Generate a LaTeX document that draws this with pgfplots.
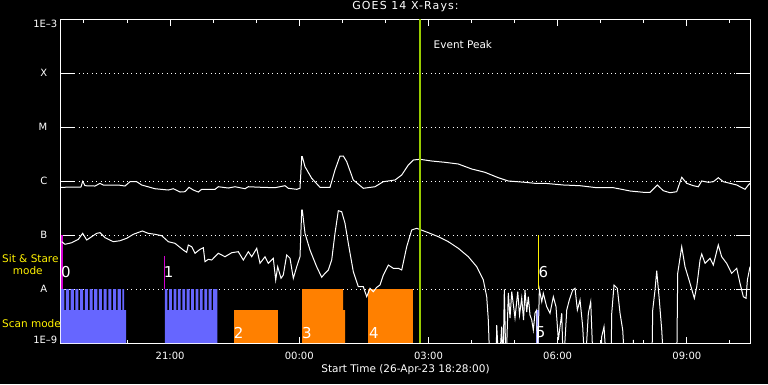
\documentclass[border=0pt]{standalone}
\usepackage{pgfplots}
\pgfplotsset{compat=1.18}
\usepackage{fontspec}
\setmainfont{DejaVu Sans}
\newfontfamily\titlefont[LetterSpace=10]{DejaVu Sans}
\definecolor{scanblue}{RGB}{102,102,255}
\definecolor{ssorange}{RGB}{255,128,0}
\definecolor{peakgreen}{RGB}{153,204,0}
\definecolor{ssmag}{RGB}{210,0,210}
\begin{document}
\fontsize{10.5}{12}\selectfont
\begin{tikzpicture}
\fill[black] (0pt,0pt) rectangle (768pt,384pt);
\useasboundingbox (0pt,0pt) rectangle (768pt,384pt);
\begin{axis}[
  at={(61pt,41pt)}, anchor=south west, scale only axis,
  width=689pt, height=324pt,
  xmin=0, xmax=16, ymin=-9, ymax=-3,
  axis line style={white, line width=1pt},
  every tick/.style={white, line width=1pt},
  xtick style={/pgfplots/major tick length=6.5pt, /pgfplots/minor tick length=3.5pt},
  ytick style={/pgfplots/major tick length=14pt},
  xtick={2.5333,5.5333,8.5333,11.5333,14.5333},
  xticklabels={21:00,00:00,03:00,06:00,09:00},
  minor xtick={0.5333,1.5333,3.5333,4.5333,6.5333,7.5333,9.5333,10.5333,12.5333,13.5333,15.5333},
  ytick={-9,-8,-7,-6,-5,-4,-3},
  yticklabels={\raisebox{3.75pt}{1E\textendash9}, A\hspace*{10pt}, B\hspace*{10pt}, C\hspace*{10pt}, M\hspace*{10pt}, X\hspace*{10pt}, \raisebox{-4.25pt}{1E\textendash3}},
  ymajorgrids,
  major grid style={white, line width=1pt, dash pattern=on 1pt off 3.4pt},
  tick label style={white, font=\fontsize{10}{12}\selectfont},
  xticklabel style={anchor=base, yshift=-16.5pt},
  yticklabel style={anchor=base east, yshift=-3.75pt},
  title={GOES 14 X-Rays:},
  title style={white, font=\titlefont\fontsize{11}{13}\selectfont, at={(axis description cs:0.5,1)}, anchor=base, yshift=4pt},
  xlabel={Start Time (26-Apr-23 18:28:00)},
  xlabel style={white, at={(axis description cs:0.5,0)}, anchor=base, yshift=-29pt},
]
% scan mode blocks (blue, comb pattern)
\addplot[fill=scanblue, draw=none] coordinates {
(0,-9) (0,-8) (0.079,-8) (0.079,-8.389) (0.116,-8.389) (0.116,-8)
(0.188,-8) (0.188,-8.389) (0.225,-8.389) (0.225,-8)
(0.297,-8) (0.297,-8.389) (0.334,-8.389) (0.334,-8)
(0.406,-8) (0.406,-8.389) (0.444,-8.389) (0.444,-8)
(0.516,-8) (0.516,-8.389) (0.553,-8.389) (0.553,-8)
(0.625,-8) (0.625,-8.389) (0.662,-8.389) (0.662,-8)
(0.734,-8) (0.734,-8.389) (0.771,-8.389) (0.771,-8)
(0.843,-8) (0.843,-8.389) (0.880,-8.389) (0.880,-8)
(0.952,-8) (0.952,-8.389) (0.989,-8.389) (0.989,-8)
(1.061,-8) (1.061,-8.389) (1.098,-8.389) (1.098,-8)
(1.170,-8) (1.170,-8.389) (1.208,-8.389) (1.208,-8)
(1.280,-8) (1.280,-8.389) (1.317,-8.389) (1.317,-8)
(1.389,-8) (1.389,-8.389) (1.426,-8.389) (1.426,-8)
(1.463,-8) (1.463,-8.389) (1.510,-8.389) (1.510,-9)};
\addplot[fill=scanblue, draw=none] coordinates {
(2.415,-9) (2.415,-8)
(2.473,-8) (2.473,-8.389) (2.510,-8.389) (2.510,-8)
(2.576,-8) (2.576,-8.389) (2.613,-8.389) (2.613,-8)
(2.678,-8) (2.678,-8.389) (2.715,-8.389) (2.715,-8)
(2.780,-8) (2.780,-8.389) (2.817,-8.389) (2.817,-8)
(2.882,-8) (2.882,-8.389) (2.919,-8.389) (2.919,-8)
(2.984,-8) (2.984,-8.389) (3.021,-8.389) (3.021,-8)
(3.086,-8) (3.086,-8.389) (3.124,-8.389) (3.124,-8)
(3.189,-8) (3.189,-8.389) (3.226,-8.389) (3.226,-8)
(3.291,-8) (3.291,-8.389) (3.328,-8.389) (3.328,-8)
(3.393,-8) (3.393,-8.389) (3.430,-8.389) (3.430,-8)
(3.495,-8) (3.495,-8.389) (3.532,-8.389) (3.532,-8)
(3.630,-8) (3.630,-9)};
\addplot[fill=scanblue, draw=none] coordinates {(11.031,-9) (11.031,-8.389) (11.101,-8.389) (11.101,-9)};
% sit & stare blocks (orange)
\addplot[fill=ssorange, draw=none] coordinates {(4.018,-9) (4.018,-8.389) (5.039,-8.389) (5.039,-9)};
\addplot[fill=ssorange, draw=none] coordinates {(5.597,-9) (5.597,-8) (6.549,-8) (6.549,-8.389) (6.595,-8.389) (6.595,-9)};
\addplot[fill=ssorange, draw=none] coordinates {(7.130,-9) (7.130,-8) (8.175,-8) (8.175,-9)};
% markers
\addplot[ssmag, line width=2pt] coordinates {(0.016,-7) (0.016,-8)};
\addplot[ssmag, line width=1pt] coordinates {(2.392,-7.389) (2.392,-8)};
\addplot[yellow, line width=1pt] coordinates {(11.094,-7) (11.094,-8)};
% long channel
\addplot[white, line width=1pt] coordinates {
(0.000,-6.117) (0.464,-6.111) (0.504,-6.006) (0.557,-6.087) (0.790,-6.093) (0.906,-6.043)
(0.982,-6.074) (1.331,-6.074) (1.486,-6.093) (1.602,-6.013) (1.758,-6.013) (1.874,-6.074)
(2.183,-6.143) (2.492,-6.167) (2.608,-6.143) (2.764,-6.204) (2.880,-6.198) (2.973,-6.117)
(3.072,-6.167) (3.189,-6.204) (3.267,-6.154) (3.576,-6.154) (3.653,-6.106) (3.885,-6.130)
(4.041,-6.106) (4.273,-6.143) (4.350,-6.106) (4.661,-6.117) (4.970,-6.124) (5.202,-6.087)
(5.279,-6.135) (5.474,-6.154) (5.550,-6.135) (5.590,-5.550) (5.604,-5.550) (5.666,-5.735)
(5.822,-5.950) (6.015,-6.117) (6.247,-6.117) (6.363,-5.796) (6.479,-5.537) (6.556,-5.537)
(6.635,-5.643) (6.788,-5.981) (7.020,-6.135) (7.292,-6.106) (7.485,-6.013) (7.757,-5.981)
(7.912,-5.889) (8.065,-5.704) (8.181,-5.611) (8.337,-5.598) (8.609,-5.630) (8.918,-5.654)
(9.226,-5.685) (9.538,-5.778) (9.846,-5.839) (10.155,-5.939) (10.388,-6.000) (10.775,-6.024)
(11.008,-6.043) (11.240,-6.043) (11.665,-6.074) (12.053,-6.087) (12.440,-6.124) (12.826,-6.124)
(13.021,-6.154) (13.214,-6.185) (13.523,-6.209) (13.678,-6.209) (13.848,-6.074) (13.987,-6.180)
(14.143,-6.217) (14.298,-6.198) (14.414,-5.931) (14.531,-6.043) (14.684,-6.087) (14.800,-6.106)
(14.879,-6.000) (15.032,-6.024) (15.148,-6.013) (15.264,-5.939) (15.380,-6.013) (15.536,-6.043)
(15.691,-6.074) (15.885,-6.154) (15.961,-6.074) (16.000,-6.043)};
% short channel
\addplot[white, line width=1pt] coordinates {
(0.016,-7.124) (0.093,-7.172) (0.248,-7.143) (0.402,-7.080) (0.504,-6.969) (0.597,-7.093)
(0.713,-7.031) (0.829,-6.969) (0.906,-6.957) (1.022,-7.050) (1.215,-7.124) (1.370,-7.106)
(1.526,-7.061) (1.679,-6.987) (1.888,-6.926) (2.027,-6.969) (2.183,-6.987) (2.339,-7.013)
(2.492,-7.124) (2.647,-7.154) (2.840,-7.278) (2.919,-7.320) (2.956,-7.185) (3.035,-7.217)
(3.112,-7.339) (3.228,-7.265) (3.305,-7.235) (3.344,-7.494) (3.421,-7.450) (3.500,-7.463)
(3.653,-7.339) (3.809,-7.402) (3.964,-7.328) (4.117,-7.309) (4.234,-7.463) (4.350,-7.309)
(4.429,-7.402) (4.545,-7.246) (4.621,-7.524) (4.738,-7.402) (4.814,-7.524) (4.930,-7.431)
(4.986,-7.833) (5.032,-7.587) (5.109,-7.802) (5.162,-7.741) (5.241,-7.370) (5.318,-7.431)
(5.395,-7.802) (5.474,-7.587) (5.550,-7.402) (5.590,-6.537) (5.604,-6.537) (5.666,-6.969)
(5.782,-7.278) (5.937,-7.587) (6.054,-7.783) (6.131,-7.709) (6.208,-7.648) (6.286,-7.463)
(6.363,-6.969) (6.440,-6.550) (6.519,-6.569) (6.595,-6.783) (6.672,-7.154) (6.788,-7.680)
(6.904,-7.957) (7.020,-7.957) (7.099,-8.143) (7.176,-7.987) (7.253,-8.050) (7.331,-7.969)
(7.408,-7.926) (7.485,-7.741) (7.601,-7.556) (7.717,-7.617) (7.833,-7.617) (7.912,-7.648)
(8.028,-7.217) (8.144,-6.907) (8.260,-6.876) (8.530,-6.957) (8.762,-7.031) (8.994,-7.124)
(9.226,-7.246) (9.459,-7.402) (9.654,-7.587) (9.807,-7.833) (9.886,-8.143) (9.923,-8.574)
(9.962,-9.5) (10.100,-9.5) (10.118,-8.667) (10.172,-9.5) (10.234,-8.698) (10.264,-9.5)
(10.295,-8.006) (10.334,-9.5) (10.388,-8.074) (10.427,-8.537) (10.467,-8.050) (10.543,-8.537)
(10.606,-8.050) (10.648,-8.481) (10.699,-8.167) (10.741,-8.574) (10.775,-8.019) (10.815,-8.426)
(10.852,-8.143) (10.891,-8.481) (10.931,-8.574) (10.968,-8.759) (11.008,-8.444) (11.047,-8.389)
(11.066,-9.5) (11.108,-8.006) (11.164,-8.235) (11.200,-8.080) (11.279,-8.328) (11.356,-8.450)
(11.433,-8.143) (11.495,-8.328) (11.549,-8.944) (11.628,-8.450) (11.665,-9.5) (11.744,-8.389)
(11.804,-8.204) (11.883,-8.019) (11.937,-7.987) (11.991,-8.389) (12.053,-8.204) (12.115,-8.698)
(12.169,-9.5) (12.246,-8.450) (12.301,-8.235) (12.362,-9.5) (12.540,-9.5) (12.556,-8.883)
(12.610,-8.698) (12.673,-9.5) (12.770,-9.5) (12.789,-8.450) (12.842,-7.926) (12.919,-7.987)
(12.982,-8.450) (13.044,-8.759) (13.098,-9.5) (13.280,-9.5) (13.291,-8.944) (13.307,-9.5)
(13.720,-9.5) (13.741,-8.389) (13.794,-8.019) (13.834,-7.661) (13.894,-8.204) (13.950,-8.759)
(14.003,-9.5) (14.298,-9.5) (14.321,-7.709) (14.414,-7.217) (14.491,-7.587) (14.607,-7.894)
(14.707,-8.172) (14.763,-7.957) (14.840,-7.463) (14.879,-7.352) (14.956,-7.524) (15.072,-7.431)
(15.148,-7.556) (15.264,-7.185) (15.342,-7.402) (15.458,-7.524) (15.574,-7.709) (15.691,-7.617)
(15.768,-7.894) (15.845,-8.143) (15.908,-8.172) (15.939,-7.833) (16.000,-7.587)};
% event peak
\addplot[peakgreen, line width=2pt] coordinates {(8.337,-3) (8.337,-9)};
\node[white, anchor=base west] at (axis cs:8.569,-3.537) {Event Peak};
\node[white, font=\fontsize{15}{15}\selectfont] at (axis cs:0.116,-7.685) {0};
\node[white, font=\fontsize{15}{15}\selectfont] at (axis cs:2.497,-7.685) {1};
\node[white, font=\fontsize{15}{15}\selectfont] at (axis cs:4.127,-8.815) {2};
\node[white, font=\fontsize{15}{15}\selectfont] at (axis cs:5.708,-8.815) {3};
\node[white, font=\fontsize{15}{15}\selectfont] at (axis cs:7.264,-8.815) {4};
\node[white, font=\fontsize{15}{15}\selectfont] at (axis cs:11.136,-8.796) {5};
\node[white, font=\fontsize{15}{15}\selectfont] at (axis cs:11.201,-7.685) {6};
\end{axis}
\node[yellow, anchor=base west, inner sep=0pt] at (2pt,121.3pt) {Sit \& Stare};
\node[yellow, anchor=base west, inner sep=0pt] at (12.7pt,110pt) {mode};
\node[yellow, anchor=base west, inner sep=0pt] at (2pt,56.3pt) {Scan mode};
\end{tikzpicture}
\end{document}
